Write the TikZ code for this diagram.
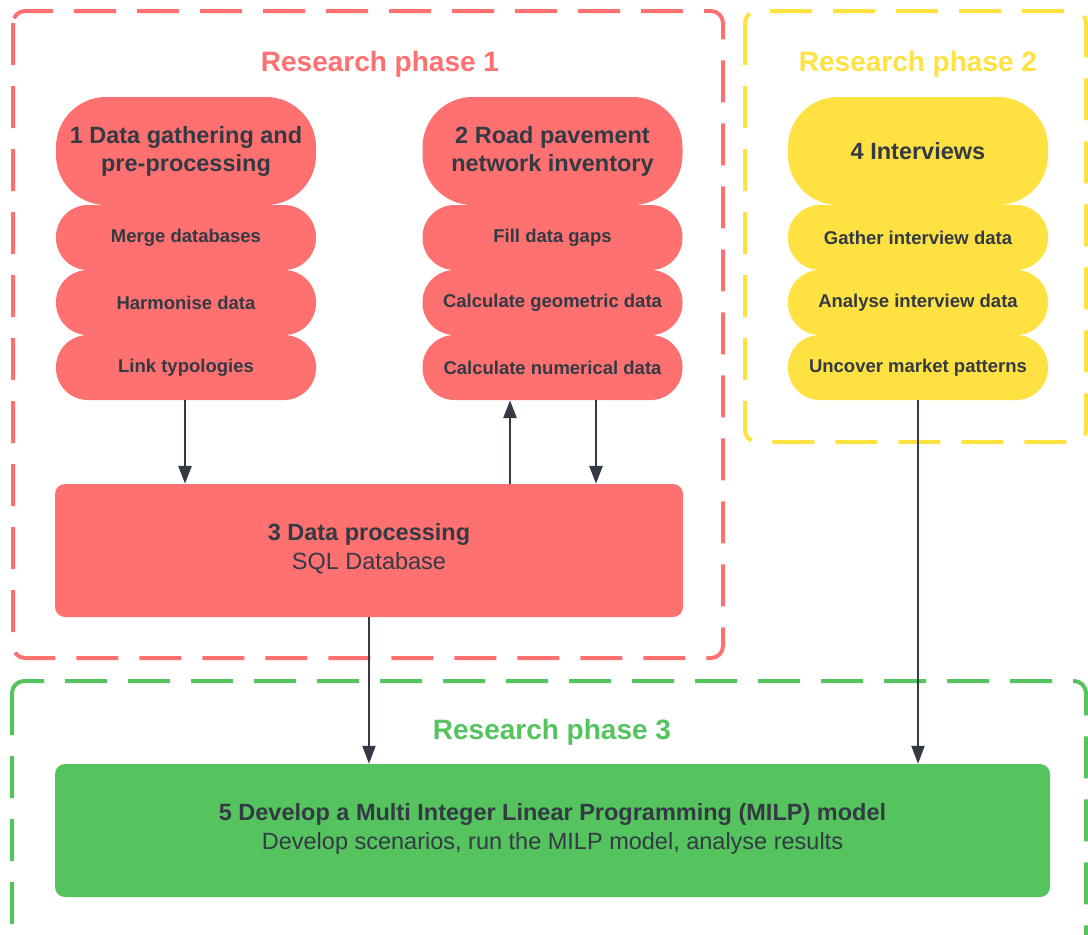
\documentclass[tikz,border=0pt]{standalone}
\usepackage{fontspec}
\setmainfont{Liberation Sans}
\usetikzlibrary{arrows.meta}
\definecolor{redc}{HTML}{FF7070}
\definecolor{yelc}{HTML}{FFE142}
\definecolor{grnc}{HTML}{55C35E}
\definecolor{dark}{HTML}{333A44}
\tikzset{
  frame/.style={line width=4pt, dash pattern=on 42pt off 21pt, rounded corners=12pt},
  toppill/.style={rounded corners=50pt, minimum width=260pt, minimum height=108pt, inner sep=0pt, align=center, text=dark, font=\fontsize{23.5}{28}\selectfont\bfseries},
  subpill/.style={rounded corners=32pt, minimum width=260pt, minimum height=65pt, inner sep=0pt, text=dark, font=\fontsize{18.5}{22}\selectfont\bfseries},
  bigbox/.style={rounded corners=10pt, minimum height=133pt, inner sep=0pt},
  boxtext/.style={align=center, text=dark, inner sep=0pt, font=\fontsize{23.5}{29}\selectfont},
  ptitle/.style={font=\fontsize{28}{32}\selectfont\bfseries, inner sep=0pt},
  arr/.style={draw=dark, line width=2.8pt, -{Triangle[length=18pt,width=13pt]}}
}
\begin{document}
\begin{tikzpicture}[x=1pt,y=-1pt]
\useasboundingbox (0,0) rectangle (1088,935);
\clip (0,0) rectangle (1088,935);
% frames
\draw[frame, draw=redc] (13,11) rectangle (723,658);
\draw[frame, draw=yelc] (745,11) rectangle (1086,442);
\draw[frame, draw=grnc] (12,681) rectangle (1086,960);
% titles
\node[ptitle, text=redc] (t1) at (380,64) {Research phase 1};
\node[ptitle, text=yelc] (t2) at (918,64) {Research phase 2};
\node[ptitle, text=grnc] (t3) at (552,732) {Research phase 3};
% stack 1
\node[toppill, fill=redc] (a0) at (186,151) {1 Data gathering and\\pre-processing};
\node[subpill, fill=redc] (a1) at (186,237.5) {Merge databases};
\node[subpill, fill=redc] (a2) at (186,302.5) {Harmonise data};
\node[subpill, fill=redc] (a3) at (186,367.5) {Link typologies};
% stack 2
\node[toppill, fill=redc] (b0) at (552.5,151) {2 Road pavement\\network inventory};
\node[subpill, fill=redc] (b1) at (552.5,237.5) {Fill data gaps};
\node[subpill, fill=redc] (b2) at (552.5,302.5) {Calculate geometric data};
\node[subpill, fill=redc] (b3) at (552.5,367.5) {Calculate numerical data};
% stack 3
\node[toppill, fill=yelc] (c0) at (918,151) {4 Interviews};
\node[subpill, fill=yelc] (c1) at (918,237.5) {Gather interview data};
\node[subpill, fill=yelc] (c2) at (918,302.5) {Analyse interview data};
\node[subpill, fill=yelc] (c3) at (918,367.5) {Uncover market patterns};
% boxes
\node[bigbox, fill=redc, minimum width=628pt] (p3) at (369,550.5) {};
\node[boxtext] (p3t) at (369,548.5) {\textbf{3 Data processing}\\SQL Database};
\node[bigbox, fill=grnc, minimum width=995pt] (p5) at (552.5,830.5) {};
\node[boxtext] (p5t) at (552.5,828.5) {\textbf{5 Develop a Multi Integer Linear Programming (MILP) model}\\Develop scenarios, run the MILP model, analyse results};
% connectors
\draw[arr] ([xshift=-1pt]a3.south) -- ([xshift=-1pt]a3.south |- p3.north);
\draw[arr] ([xshift=-42.5pt]b3.south |- p3.north) -- ([xshift=-42.5pt]b3.south);
\draw[arr] ([xshift=43.5pt]b3.south) -- ([xshift=43.5pt]b3.south |- p3.north);
\draw[arr, line width=2pt] (p3.south) -- (p3.south |- p5.north);
\draw[arr, line width=2pt] (c3.south) -- (c3.south |- p5.north);
\end{tikzpicture}
\end{document}
